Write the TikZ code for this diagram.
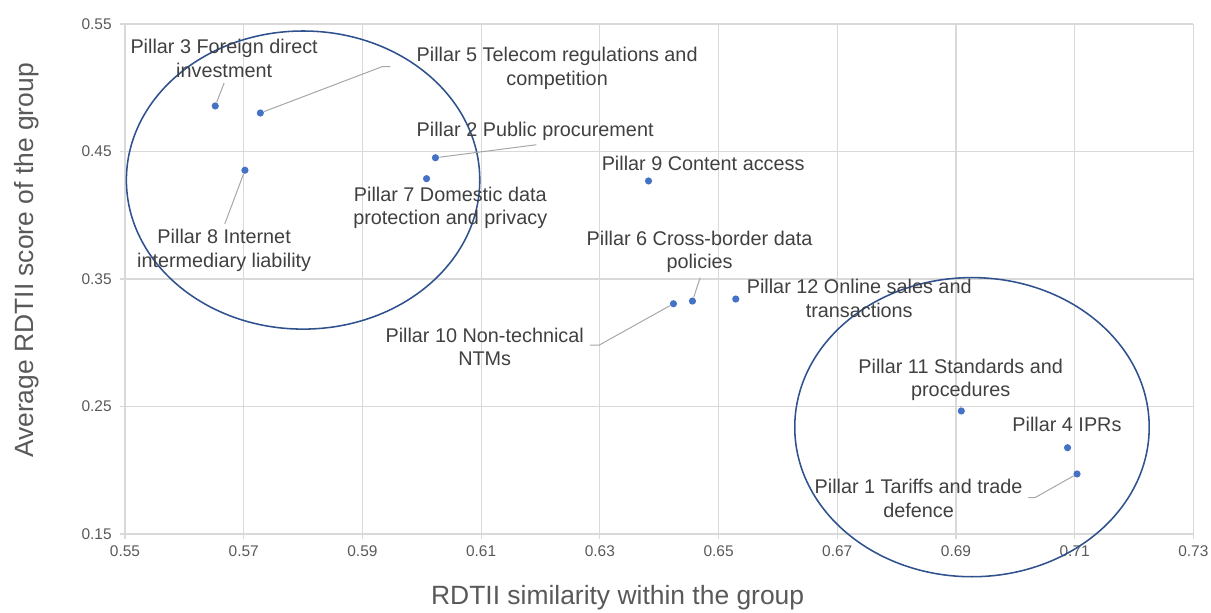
\documentclass[tikz,border=0pt]{standalone}
\usepackage{fontspec}
\setmainfont{Liberation Sans}
\definecolor{ptblue}{HTML}{4472C4}
\definecolor{ringblue}{HTML}{2F528F}
\definecolor{gridgray}{HTML}{D9D9D9}
\definecolor{labelgray}{HTML}{404040}
\definecolor{tickgray}{HTML}{595959}
\definecolor{leadergray}{HTML}{A6A6A6}
\tikzset{
  datapt/.style={circle,fill=ptblue,inner sep=0pt,minimum size=1.8mm},
  lbl/.style={text=labelgray,font=\fontsize{14.1}{16.6}\selectfont,align=center,inner sep=0pt},
  leader/.style={draw=leadergray,line width=0.7pt},
  ring/.style={draw=ringblue,line width=1.1pt},
  gridline/.style={draw=gridgray,line width=0.8pt},
  ticklbl/.style={text=tickgray,font=\fontsize{11}{13}\selectfont,inner sep=0pt},
  axtitle/.style={text=tickgray,font=\fontsize{18.8}{22}\selectfont,inner sep=0pt}
}

\begin{document}
\begin{tikzpicture}[x=1.48375cm,y=0.31875cm]
    \useasboundingbox (52.894,8.882) rectangle (73.298,56.882);
    % grid, ticks and tick labels
    \foreach \gx/\gl in {55/0.55,57/0.57,59/0.59,61/0.61,63/0.63,65/0.65,67/0.67,69/0.69,71/0.71,73/0.73} {
      \draw[gridline] (\gx,14.61) -- (\gx,55);
      \node[ticklbl] at (\gx,13.67) {\gl};
    }
    \foreach \gy/\gl in {15/0.15,25/0.25,35/0.35,45/0.45,55/0.55} {
      \draw[gridline] (54.916,\gy) -- (73,\gy);
      \node[ticklbl,anchor=east] at (54.78,\gy) {\gl};
    }
    \node[axtitle,rotate=90] (ytitle) at (53.35,36.45) {Average RDTII score of the group};
    \node[axtitle] (xtitle) at (63.30,9.98) {RDTII similarity within the group};

    % groups
    \draw[ring] (58.00,42.76) ellipse [x radius=2.977, y radius=11.69];
    \draw[ring] (69.27,23.38) ellipse [x radius=2.986, y radius=11.73];

    % data points
    \node[datapt] (p1) at (71.04,19.71) {};
    \node[datapt] (p2) at (60.23,44.51) {};
    \node[datapt] (p3) at (56.52,48.57) {};
    \node[datapt] (p4) at (70.88,21.77) {};
    \node[datapt] (p5) at (57.28,48.02) {};
    \node[datapt] (p6) at (64.56,33.27) {};
    \node[datapt] (p7) at (60.08,42.87) {};
    \node[datapt] (p8) at (57.02,43.53) {};
    \node[datapt] (p9) at (63.82,42.69) {};
    \node[datapt] (p10) at (64.24,33.06) {};
    \node[datapt] (p11) at (69.09,24.65) {};
    \node[datapt] (p12) at (65.29,33.43) {};

    % labels
    \node[lbl] (l1) at (68.37,17.80) {Pillar 1 Tariffs and trade\\defence};
    \node[lbl] (l2) at (61.91,46.61) {Pillar 2 Public procurement};
    \node[lbl] (l3) at (56.67,52.31) {Pillar 3 Foreign direct\\investment};
    \node[lbl] (l4) at (70.87,23.63) {Pillar 4 IPRs};
    \node[lbl] (l5) at (62.28,51.53) {Pillar 5 Telecom regulations and\\competition};
    \node[lbl] (l6) at (64.68,37.12) {Pillar 6 Cross-border data\\policies};
    \node[lbl] (l7) at (60.48,40.59) {Pillar 7 Domestic data\\protection and privacy};
    \node[lbl] (l8) at (56.67,37.24) {Pillar 8 Internet\\intermediary liability};
    \node[lbl] (l9) at (64.74,44.07) {Pillar 9 Content access};
    \node[lbl] (l10) at (61.06,29.69) {Pillar 10 Non-technical\\NTMs};
    \node[lbl] (l11) at (69.08,27.08) {Pillar 11 Standards and\\procedures};
    \node[lbl] (l12) at (67.37,33.49) {Pillar 12 Online sales and\\transactions};

    % leader lines
    \coordinate (c1a) at (70.33,17.85);
    \coordinate (c1b) at (70.22,17.85);
    \coordinate (c2) at (61.93,45.53);
    \coordinate (c3) at (56.67,50.37);
    \coordinate (c5a) at (59.33,51.65);
    \coordinate (c5b) at (59.47,51.65);
    \coordinate (c6) at (64.69,35.10);
    \coordinate (c8) at (56.68,39.31);
    \coordinate (c10a) at (62.99,29.82);
    \coordinate (c10b) at (62.83,29.82);
    \coordinate (c11) at (69.08,25.05);
    \draw[leader] (p1) -- (c1a) -- (c1b);
    \draw[leader] (p2) -- (c2);
    \draw[leader] (p3) -- (c3);
    \draw[leader] (p5) -- (c5a) -- (c5b);
    \draw[leader] (p6) -- (c6);
    \draw[leader] (p8) -- (c8);
    \draw[leader] (p10) -- (c10a) -- (c10b);
    \draw[leader] (p11) -- (c11);
\end{tikzpicture}
\end{document}
